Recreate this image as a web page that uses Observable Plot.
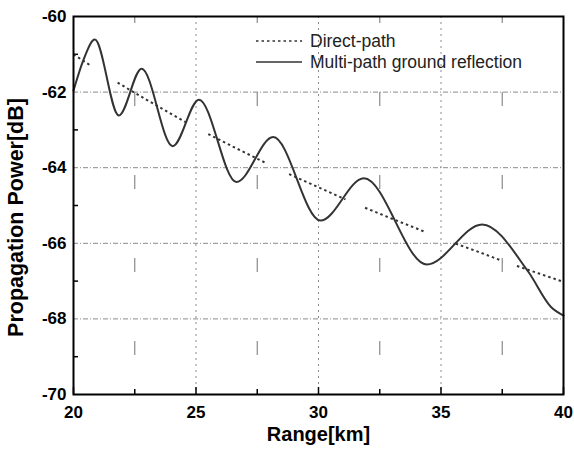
<!DOCTYPE html>
<html>
<head>
<meta charset="utf-8">
<script src="https://cdn.jsdelivr.net/npm/d3@7"></script>
<script src="https://cdn.jsdelivr.net/npm/@observablehq/plot@0.6"></script>
<style>
  html, body { margin: 0; padding: 0; background: #fff; }
  #chart svg { display: block; }
</style>
</head>
<body>
<div id="chart"></div>
<script>
// Direct-path received power (dB) vs range (km); null marks a break in the dotted trace
const directRange = [20, 20.7, null, 21.8, 23, 24, 24.65, null, 25.5, 26.5, 27.8, null, 28.8, 30, 31.1, null, 31.9, 33, 34.4, null, 35.6, 36.5, 37.4, null, 38.1, 39, 40];
const directPower = [-61.0, -61.3, null, -61.75, -62.21, -62.58, -62.82, null, -63.11, -63.44, -63.86, null, -64.17, -64.52, -64.84, null, -65.06, -65.35, -65.71, null, -66.01, -66.22, -66.44, null, -66.6, -66.8, -67.02];

// Two-ray (ground reflection) received power: peaks and nulls of the interference pattern
const multiRange = [20, 20.4, 20.87, 21.85, 22.78, 24.05, 25.12, 26.65, 28.15, 30.08, 31.85, 34.42, 36.68, 38.57, 39.5, 40];
const multiPower = [-61.96, -61.16, -60.61, -62.62, -61.38, -63.43, -62.2, -64.38, -63.19, -65.4, -64.28, -66.56, -65.5, -66.76, -67.69, -67.91];

const xMajor = [20, 25, 30, 35, 40];
const xMinor = [22.5, 27.5, 32.5, 37.5];
const yMajor = [-60, -62, -64, -66, -68, -70];
const yMinor = [-61, -63, -65, -67, -69];
const seriesNames = ["Direct-path", "Multi-path ground reflection"];

const direct = directRange.map((r, i) =>
  r == null ? {range: NaN, power: NaN} : {range: r, power: directPower[i]});
const multi = multiRange.map((r, i) => ({range: r, power: multiPower[i]}));

const font = "'Liberation Sans', Arial, Helvetica, sans-serif";
const ink = "#333";
const gridColor = "#8a8a8a";
const plain = d => `${d}`; // hyphen-minus, as printed on the axes
const blank = () => "";

const chart = Plot.plot({
  width: 574,
  height: 460,
  marginLeft: 73,
  marginRight: 11,
  marginTop: 16,
  marginBottom: 66,
  style: {fontFamily: font, background: "#fff"},
  x: {domain: [20, 40]},
  y: {domain: [-70, -60]},
  marks: [
    // grid
    Plot.gridX(xMajor.slice(1, -1), {stroke: gridColor, strokeOpacity: 1, strokeWidth: 1, strokeDasharray: "2,4"}),
    Plot.gridY(yMajor.slice(1, -1), {stroke: gridColor, strokeOpacity: 1, strokeWidth: 1, strokeDasharray: "5,2,1,2"}),
    Plot.gridX(xMinor, {stroke: gridColor, strokeOpacity: 1, strokeWidth: 1.2, strokeDasharray: "14,69", strokeDashoffset: 7}),
    // inward tick marks
    Plot.axisX(xMajor, {anchor: "bottom", tickSize: 7, dy: -7, tickFormat: blank, label: null, stroke: "#000", strokeWidth: 1.5}),
    Plot.axisX(xMinor, {anchor: "bottom", tickSize: 5, dy: -5, tickFormat: blank, label: null, stroke: "#000", strokeWidth: 1.5}),
    Plot.axisY(yMinor, {anchor: "left", tickSize: 5, dx: 5, tickFormat: blank, label: null, stroke: "#000", strokeWidth: 1.5}),
    // tick labels
    Plot.axisX(xMajor, {anchor: "bottom", tickSize: 0, tickPadding: 11, tickFormat: plain, fontSize: 17, fontWeight: "bold", fill: "#000", label: null}),
    Plot.axisY(yMajor, {anchor: "left", tickSize: 0, tickPadding: 7, tickFormat: plain, fontSize: 17, fontWeight: "bold", fill: "#000", label: null}),
    // series
    Plot.line(direct, {x: "range", y: "power", stroke: ink, strokeWidth: 2, strokeLinecap: "butt", strokeDasharray: "2.5,3"}),
    Plot.line(multi, {x: "range", y: "power", stroke: ink, strokeWidth: 2, curve: "monotone-x"}),
    Plot.frame({stroke: "#000", strokeWidth: 2}),
    // axis titles
    Plot.text(["Range[km]"], {frameAnchor: "bottom", dy: 46, fontSize: 20, fontWeight: "bold", fill: "#000"}),
    Plot.text(["Propagation Power[dB]"], {frameAnchor: "left", textAnchor: "middle", dx: -57, dy: 12, rotate: -90, fontSize: 21.5, fontWeight: "bold", fill: "#000"})
  ]
});

// Legend in the upper right of the plotting area
const svg = d3.select(chart);
const legend = svg.append("g")
  .attr("font-family", font)
  .attr("font-size", 17.5)
  .attr("text-anchor", "start")
  .attr("fill", "#222");
const rows = [
  {name: seriesNames[0], dash: "2.5,3", y: 41},
  {name: seriesNames[1], dash: null, y: 62}
];
rows.forEach(r => {
  legend.append("line")
    .attr("x1", 256).attr("x2", 302)
    .attr("y1", r.y).attr("y2", r.y)
    .attr("stroke", ink).attr("stroke-width", 1.6)
    .attr("stroke-dasharray", r.dash);
  legend.append("text")
    .attr("x", 310).attr("y", r.y)
    .attr("dy", "0.35em")
    .text(r.name);
});

document.getElementById("chart").appendChild(chart);
</script>
</body>
</html>
